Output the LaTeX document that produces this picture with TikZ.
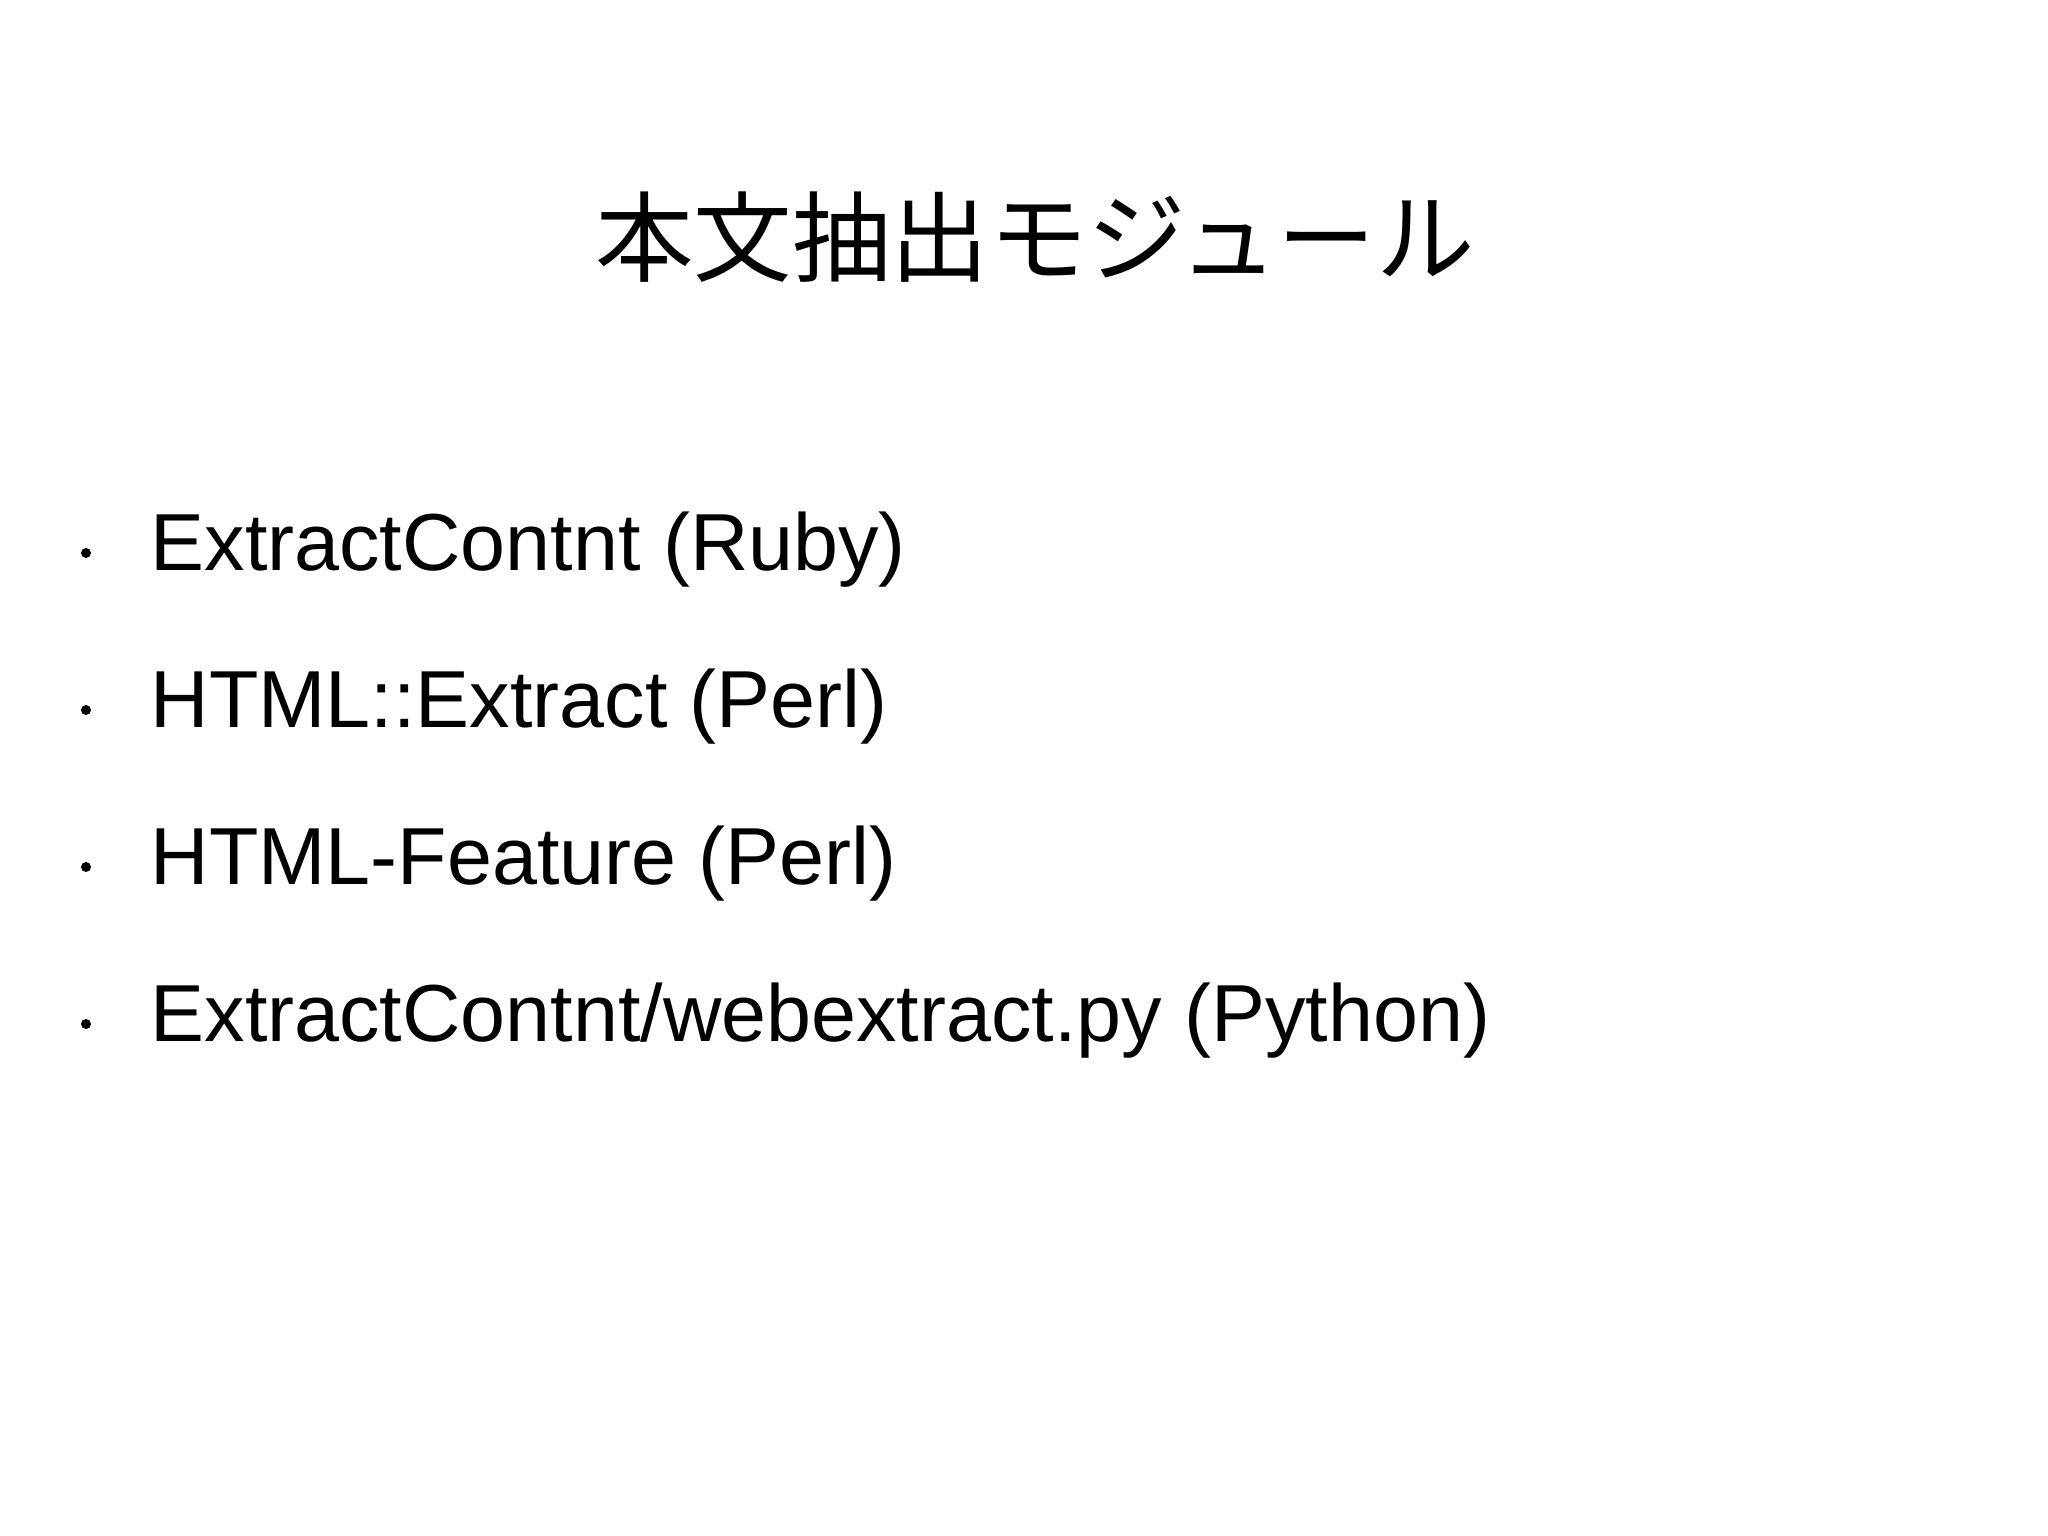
\documentclass[tikz,border=0pt]{standalone}
\usepackage{fontspec}
\setmainfont{Liberation Sans}
\newfontfamily\cjk{Noto Sans CJK JP}
\begin{document}
\begin{tikzpicture}[x=0.01cm,y=-0.01cm,
  item/.style={anchor=base west,font=\fontsize{23}{28}\selectfont,inner sep=0},
  dot/.style={circle,fill=black,inner sep=0,minimum size=0.1cm}]
\useasboundingbox (0,0) rectangle (2048,1536);
\node[font=\cjk\fontsize{28}{34}\selectfont] (title) at (1035,237) {本文抽出モジュール};
\node[item] (i1) at (150,570) {ExtractContnt (Ruby)};
\node[item] (i2) at (150,727) {HTML::Extract (Perl)};
\node[item] (i3) at (150,884) {HTML-Feature (Perl)};
\node[item] (i4) at (150,1041) {ExtractContnt/webextract.py (Python)};
\node[dot] (d1) at (86,553) {};
\node[dot] (d2) at (86,710) {};
\node[dot] (d3) at (86,867) {};
\node[dot] (d4) at (86,1024) {};
\end{tikzpicture}
\end{document}
